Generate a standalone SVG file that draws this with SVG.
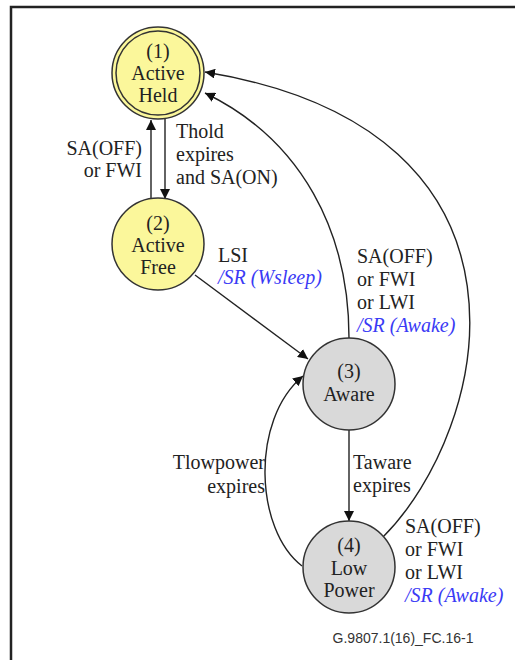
<svg xmlns="http://www.w3.org/2000/svg" width="515" height="660" viewBox="0 0 515 660">
<defs>
<marker id="ah" viewBox="0 0 10 10" refX="10" refY="5" markerWidth="10" markerHeight="10" markerUnits="userSpaceOnUse" orient="auto">
<path d="M0,0 L10,5 L0,10 z" fill="#111"/>
</marker>
<style>
.node{stroke:#333;stroke-width:1.5}
.yel{fill:#fbf79b}
.gry{fill:#d9d9d9}
text{font-size:20px;fill:#222}
.c{text-anchor:middle}
.e{text-anchor:end}
.b{fill:#3a3af5;font-style:italic}
.edge{fill:none;stroke:#222;stroke-width:1.4;marker-end:url(#ah)}
</style>
</defs>
<rect width="515" height="660" fill="#fff"/>
<path d="M11,670 L11,7 L525,7" fill="none" stroke="#222" stroke-width="2.5"/>

<g id="connectors">
<line class="edge" x1="151" y1="198" x2="151" y2="120"/>
<line class="edge" x1="165" y1="119" x2="165" y2="199"/>
<line class="edge" x1="195" y1="275" x2="308" y2="359"/>
<path class="edge" d="M349,338 C349,232 302,140 205,93"/>
<path class="edge" d="M383,537 C490,430 560,130 205,72"/>
<path class="edge" d="M302,566 C255,530 250,420 303,376"/>
<line class="edge" x1="349" y1="430" x2="349" y2="521"/>
</g>

<g font-family="Liberation Serif, Times New Roman, serif">
<g id="n1">
<circle class="node yel" cx="158" cy="73" r="46"/>
<circle fill="none" stroke="#333" stroke-width="1.5" cx="158" cy="73" r="42"/>
<text class="c" x="158" y="58">(1)</text>
<text class="c" x="158" y="80">Active</text>
<text class="c" x="158" y="102">Held</text>
</g>
<g id="n2">
<circle class="node yel" cx="158" cy="244" r="46"/>
<text class="c" x="158" y="230">(2)</text>
<text class="c" x="158" y="252">Active</text>
<text class="c" x="158" y="274">Free</text>
</g>
<g id="n3">
<circle class="node gry" cx="349" cy="384" r="46"/>
<text class="c" x="349" y="378">(3)</text>
<text class="c" x="349" y="401">Aware</text>
</g>
<g id="n4">
<circle class="node gry" cx="349" cy="567" r="46"/>
<text class="c" x="349" y="552">(4)</text>
<text class="c" x="349" y="575">Low</text>
<text class="c" x="349" y="597">Power</text>
</g>

<g id="labels">
<text class="e" x="142" y="155">SA(OFF)</text>
<text class="e" x="142" y="177">or FWI</text>
<text x="176" y="138">Thold</text>
<text x="176" y="161">expires</text>
<text x="176" y="184">and SA(ON)</text>
<text x="218" y="262">LSI</text>
<text class="b" x="218" y="284">/SR (Wsleep)</text>
<text x="357" y="263">SA(OFF)</text>
<text x="357" y="286">or FWI</text>
<text x="357" y="309">or LWI</text>
<text class="b" x="357" y="332">/SR (Awake)</text>
<text x="353" y="469">Taware</text>
<text x="353" y="492">expires</text>
<text class="e" x="265" y="469">Tlowpower</text>
<text class="e" x="265" y="493">expires</text>
<text x="405" y="533">SA(OFF)</text>
<text x="405" y="556">or FWI</text>
<text x="405" y="579">or LWI</text>
<text class="b" x="405" y="602">/SR (Awake)</text>
</g>
</g>
<text x="403" y="643" text-anchor="middle" font-family="Liberation Sans, Arial, sans-serif" style="font-size:14px;fill:#333">G.9807.1(16)_FC.16-1</text>
</svg>
